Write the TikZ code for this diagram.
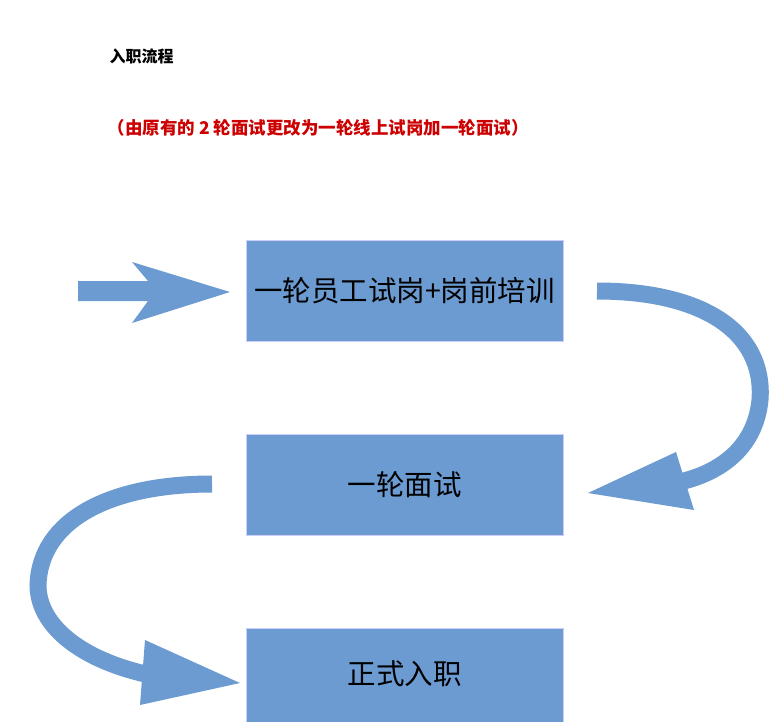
\documentclass[tikz,border=0pt]{standalone}
\usepackage{fontspec}
\newfontfamily\cjk{Noto Sans CJK SC}
\begin{document}
\begin{tikzpicture}[x=1pt,y=-1pt,
  box/.style={draw=blue!20!white,line width=1pt,fill=arrowblue,minimum width=317pt,minimum height=101pt,inner sep=0pt,font=\cjk\fontsize{28.5}{32}\selectfont},
  band/.style={draw=arrowblue,line width=17pt}]
\definecolor{arrowblue}{HTML}{6C9BD2}
\useasboundingbox (0,0) rectangle (771,721);
\fill[white] (0,0) rectangle (771,721);
\node[font=\cjk\bfseries\fontsize{16}{18}\selectfont,anchor=west] (title) at (106,56) {入职流程};
\node[font=\cjk\bfseries\fontsize{17.5}{20}\selectfont,text=red!80!black,anchor=west] (note) at (104,128) {（由原有的 2 轮面试更改为一轮线上试岗加一轮面试）};
\node[box] (b1) at (404.5,290.5) {一轮员工试岗+岗前培训};
\node[box] (b2) at (404.5,484.5) {一轮面试};
\node[box,minimum height=101pt,anchor=north] (b3) at (404.5,628) {\raisebox{12pt}{正式入职}};
% straight arrow
\fill[arrowblue] (78,281) -- (148,281) -- (132,262) -- (230,292) -- (132,323) -- (148,301) -- (78,301) -- cycle;
% curved arrow right
\draw[band] (597,291) .. controls (700,291) and (765,330) .. (760,400) .. controls (756,440) and (730,470) .. (680,482);
\fill[arrowblue] (588,493) -- (676,452) -- (694,510) -- cycle;
% curved arrow left
\draw[band] (212,484) .. controls (110,484) and (40,520) .. (38,585) .. controls (38,625) and (80,660) .. (150,675);
\fill[arrowblue] (240,683) -- (145,640) -- (140,705) -- cycle;
\end{tikzpicture}
\end{document}
